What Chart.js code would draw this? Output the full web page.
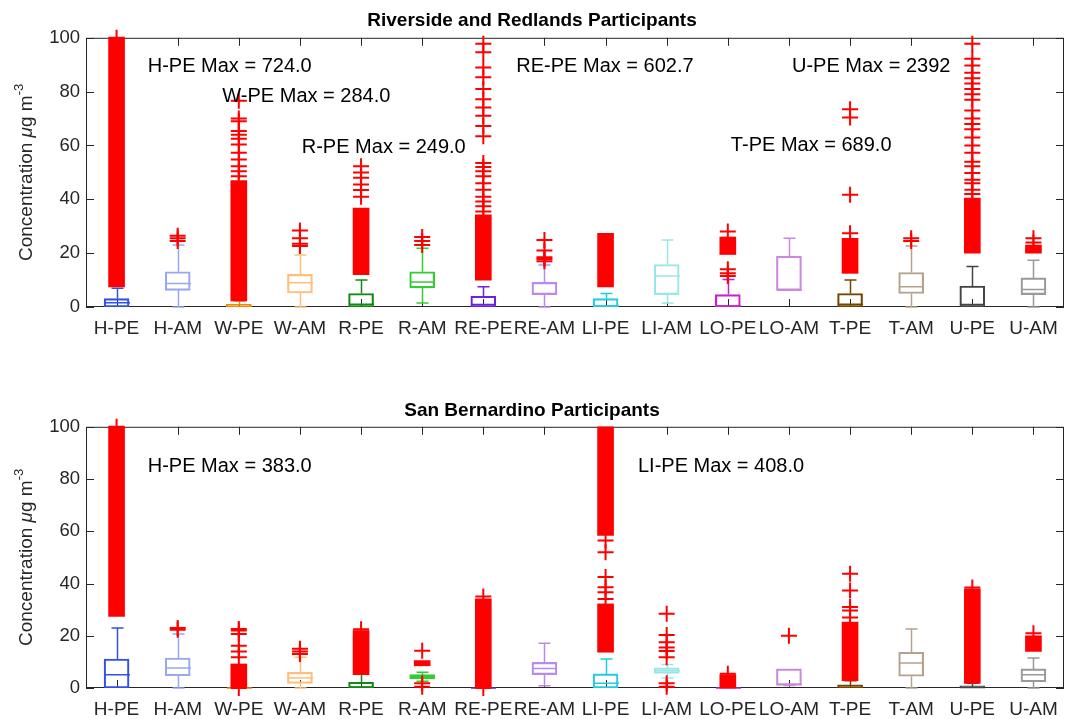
<!DOCTYPE html>
<html>
<head>
<meta charset="utf-8">
<script src="https://cdn.jsdelivr.net/npm/chart.js@4.4.1/dist/chart.umd.min.js"></script>
<style>
  html, body { margin: 0; padding: 0; background: #fff; }
  #wrap { position: relative; width: 1067px; height: 719px; }
  #c1 { position: absolute; left: 0; top: 0; }
  #c2 { position: absolute; left: 0; top: 380px; }
</style>
</head>
<body>
<div id="wrap">
  <canvas id="c1" width="1067" height="380"></canvas>
  <canvas id="c2" width="1067" height="339"></canvas>
</div>
<script>
// categories (same for both panels)
var cats = ['H-PE', 'H-AM', 'W-PE', 'W-AM', 'R-PE', 'R-AM', 'RE-PE', 'RE-AM',
            'LI-PE', 'LI-AM', 'LO-PE', 'LO-AM', 'T-PE', 'T-AM', 'U-PE', 'U-AM'];
var boxColors = ['#3050e8', '#98a8f0', '#f08a00', '#ffbf7a', '#118a11', '#33cc33', '#6a22dd', '#b88af0',
                 '#22ccdd', '#99e6e8', '#cc22cc', '#cc88dd', '#774400', '#b4a28c', '#444444', '#999999'];

// ---- Riverside and Redlands ----
var rrQ1   = [0, 6.2, 0, 5.2, 0, 7.1, 0, 4.6, 0, 4.6, 0, 6.2, 0, 5.0, 0, 4.6];
var rrMed  = [1.6, 8.7, 0.3, 9.0, 1.0, 9.3, 0.9, 8.7, 0.4, 11.5, 0.4, 6.2, 1.0, 7.5, 0.9, 6.5];
var rrQ3   = [3.1, 13.1, 1.0, 12.1, 5.0, 13.1, 4.0, 9.3, 3.1, 15.8, 4.6, 18.9, 5.0, 12.8, 7.8, 10.8];
var rrWLo  = [0, 0, 0, 0, 0, 1.5, 0, 0, 0, 1.5, 0, 6.2, 0, 0, 0, 0];
var rrWHi  = [7.0, 23.0, 2.2, 19.3, 10.0, 21.8, 7.5, 15.6, 5.0, 24.9, 10.2, 25.5, 10.0, 22.7, 15.0, 17.4];
// dense runs of outliers: [low, high] per category
var rrBands = [[[7.5, 100]], [], [[2.3, 47]], [], [[12, 36.7]], [], [[10, 34.2]], [],
               [[7.5, 27.4]], [], [[19.5, 26]], [], [[12.5, 25.5]], [], [[20, 40.5]], [[20, 23]]];
var rrOut = [
  [100],
  [24.5, 25.5, 26.5],
  [48.6, 50.4, 52.3, 54.8, 57.3, 60.4, 62.5, 64, 65.4, 69, 70, 76.6],
  [22.7, 23.5, 25.5, 28.4],
  [41, 43.5, 45.5, 48, 50, 52.3],
  [23, 24.5, 26],
  [35.5, 37.4, 39.2, 41, 43.6, 46, 48.6, 50.4, 52, 53.5, 63.4, 67.2, 71, 74.1, 77.2, 81, 85.3, 89, 94.6, 97.8],
  [17, 17.8, 18.5, 21, 24.9],
  [],
  [],
  [11.5, 12.5, 14, 28],
  [],
  [27.4, 41.7, 70.4, 73.5],
  [24.5, 25.5],
  [42, 43.6, 46, 47.3, 49.8, 52.3, 54, 57.3, 60, 63, 66, 68, 70, 73, 77, 79, 81, 83, 85, 87, 89.7, 92.2, 97.8],
  [24, 25.5]
];
var rrNotes = [
  ['H-PE Max = 724.0', 0.51, 89.5],
  ['W-PE Max = 284.0', 1.73, 78.3],
  ['R-PE Max = 249.0', 3.03, 59.3],
  ['RE-PE Max = 602.7', 6.54, 89.5],
  ['U-PE Max = 2392', 11.05, 89.5],
  ['T-PE Max = 689.0', 10.05, 60.0]
];

// ---- San Bernardino ----
var sbQ1   = [0, 4.7, 0, 1.8, 0, 3.5, 0, 5.1, 0, 5.6, 0, 1.0, 0, 4.5, 0, 2.4];
var sbMed  = [5.1, 7.7, 0, 3.8, 0.3, 4.3, 0, 7.5, 1.8, 6.6, 0, 1.4, 0.3, 9.6, 0.2, 5.1];
var sbQ3   = [11.1, 11.5, 0, 6.0, 2.2, 5.1, 0, 9.8, 5.4, 7.7, 0, 7.3, 1.2, 13.7, 0.8, 7.3];
var sbWLo  = [0, 0, 0, 0, 0, 2.6, 0, 0.9, 0, 3.8, 0, 1.0, 0, 0, 0, 0];
var sbWHi  = [23, 20.7, 0, 11.8, 5.4, 6.0, 0, 17.1, 11.1, 9.0, 0, 7.3, 2.8, 22.6, 1.8, 11.5];
var sbBands = [[[27.4, 100]], [], [[0.5, 9.2]], [], [[5.1, 22]], [[8.5, 10.5]], [[0.3, 34.1]], [],
               [[13.7, 32.2], [58.4, 100]], [], [[0, 5.1]], [], [[2.8, 25.2]], [], [[1.8, 38]], [[14, 20]]];
var sbOut = [
  [100],
  [22.3, 23],
  [0, 11.8, 14, 16.2, 20.7, 22, 22.6],
  [13, 14, 15],
  [22.5],
  [0.5, 1.8, 14.3],
  [0, 35],
  [],
  [34.1, 36.7, 38.6, 42.5, 52, 56.5],
  [0.5, 1.8, 11.8, 14.2, 15.5, 17.5, 20.3, 28.4],
  [5.5],
  [20],
  [27, 29.7, 31, 37.3, 43.7],
  [],
  [38.5],
  [21]
];
var sbNotes = [
  ['H-PE Max = 383.0', 0.51, 84.7],
  ['LI-PE Max = 408.0', 8.53, 84.7]
];

var yTicks = [0, 20, 40, 60, 80, 100];
var FONT = '"Liberation Sans", Arial, Helvetica, sans-serif';
Chart.defaults.font.family = FONT;
Chart.defaults.color = '#262626';

function boxPlotPlugin(q1, med, q3, wLo, wHi, notes) {
    return {
        id: 'boxbits',
        beforeDatasetsDraw: function (chart) {
            var ctx = chart.ctx, x = chart.scales.x, y = chart.scales.y, a = chart.chartArea;
            ctx.save();
            // axes box with inward ticks
            ctx.strokeStyle = '#262626';
            ctx.lineWidth = 1;
            ctx.strokeRect(a.left + 0.5, a.top + 0.5, a.right - a.left - 1, a.bottom - a.top - 1);
            ctx.beginPath();
            yTicks.forEach(function (v) {
                var py = Math.round(y.getPixelForValue(v)) + 0.5;
                ctx.moveTo(a.left, py); ctx.lineTo(a.left + 8, py);
                ctx.moveTo(a.right, py); ctx.lineTo(a.right - 8, py);
            });
            cats.forEach(function (c, i) {
                var px = Math.round(x.getPixelForValue(i)) + 0.5;
                ctx.moveTo(px, a.top); ctx.lineTo(px, a.top + 8);
                ctx.moveTo(px, a.bottom); ctx.lineTo(px, a.bottom - 8);
            });
            ctx.stroke();

            // whiskers, caps, medians
            ctx.lineWidth = 1.5;
            cats.forEach(function (c, i) {
                var px = Math.round(x.getPixelForValue(i)) + 0.5;
                ctx.strokeStyle = boxColors[i];
                ctx.beginPath();
                if (wHi[i] > q3[i]) {
                    ctx.moveTo(px, y.getPixelForValue(q3[i]));
                    ctx.lineTo(px, y.getPixelForValue(wHi[i]));
                    ctx.moveTo(px - 6, y.getPixelForValue(wHi[i]));
                    ctx.lineTo(px + 6, y.getPixelForValue(wHi[i]));
                }
                if (wLo[i] < q1[i] || wLo[i] > 0) {
                    ctx.moveTo(px, y.getPixelForValue(q1[i]));
                    ctx.lineTo(px, y.getPixelForValue(wLo[i]));
                    ctx.moveTo(px - 6, y.getPixelForValue(wLo[i]));
                    ctx.lineTo(px + 6, y.getPixelForValue(wLo[i]));
                }
                var my = y.getPixelForValue(med[i]);
                ctx.moveTo(px - 12.5, my);
                ctx.lineTo(px + 12.5, my);
                ctx.stroke();
            });
            ctx.restore();
        },
        afterDraw: function (chart) {
            var ctx = chart.ctx, x = chart.scales.x, y = chart.scales.y, a = chart.chartArea;
            ctx.save();
            ctx.fillStyle = '#000';
            ctx.font = '20px ' + FONT;
            ctx.textAlign = 'left';
            ctx.textBaseline = 'middle';
            notes.forEach(function (n) {
                ctx.fillText(n[0], x.getPixelForValue(n[1]), y.getPixelForValue(n[2]));
            });
            ctx.restore();

            // y axis title: Concentration (italic mu) g m^-3
            var parts = [
                ['Concentration ', '19px ' + FONT, 0],
                ['\u03bc', 'italic 19px ' + FONT, 0],
                ['g m', '19px ' + FONT, 0],
                ['-3', '13px ' + FONT, -8]
            ];
            ctx.save();
            ctx.fillStyle = '#262626';
            ctx.textBaseline = 'middle';
            ctx.textAlign = 'left';
            var total = 0;
            parts.forEach(function (p) { ctx.font = p[1]; total += ctx.measureText(p[0]).width; });
            ctx.translate(27, (a.top + a.bottom) / 2);
            ctx.rotate(-Math.PI / 2);
            var cx = -total / 2;
            parts.forEach(function (p) {
                ctx.font = p[1];
                ctx.fillText(p[0], cx, p[2]);
                cx += ctx.measureText(p[0]).width;
            });
            ctx.restore();
        }
    };
}

function makePanel(id, title, titlePad, bottomPad, q1, med, q3, wLo, wHi, bands, outs, notes) {
    var boxData = cats.map(function (c, i) { return [q1[i], q3[i]]; });
    var datasets = [{
        type: 'bar',
        data: boxData,
        borderColor: boxColors,
        backgroundColor: 'rgba(0,0,0,0)',
        borderWidth: 1.5,
        borderSkipped: false,
        barThickness: 25,
        grouped: false,
        order: 3
    }];
    var nSlots = Math.max.apply(null, bands.map(function (b) { return b.length; }));
    for (var k = 0; k < nSlots; k++) {
        datasets.push({
            type: 'bar',
            data: cats.map(function (c, i) { return bands[i][k] || null; }),
            backgroundColor: '#ff0000',
            borderWidth: 0,
            barThickness: 16,
            grouped: false,
            clip: false,
            order: 2
        });
    }
    var pts = [];
    outs.forEach(function (list, i) {
        list.forEach(function (v) { pts.push({ x: cats[i], y: v }); });
    });
    datasets.push({
        type: 'line',
        data: pts,
        showLine: false,
        pointStyle: 'cross',
        pointRadius: 8,
        pointBorderWidth: 2,
        pointBorderColor: '#ff0000',
        pointBackgroundColor: '#ff0000',
        clip: false,
        order: 1
    });

    return new Chart(document.getElementById(id), {
        type: 'bar',
        data: { labels: cats, datasets: datasets },
        options: {
            responsive: false,
            animation: false,
            layout: { autoPadding: false, padding: { left: 0, right: 3, top: 0, bottom: bottomPad } },
            plugins: {
                legend: { display: false },
                tooltip: { enabled: false },
                title: {
                    display: true,
                    text: title,
                    color: '#000',
                    font: { size: 19, weight: 'bold' },
                    padding: titlePad
                }
            },
            scales: {
                x: {
                    type: 'category',
                    offset: true,
                    grid: { display: false, drawTicks: false },
                    border: { display: false },
                    ticks: { autoSkip: false, maxRotation: 0, padding: 10, font: { size: 19 }, color: '#262626' },
                    afterFit: function (s) { s.height = 31; s.paddingLeft = 0; s.paddingRight = 0; }
                },
                y: {
                    min: 0, max: 100,
                    grid: { display: false, drawTicks: false },
                    border: { display: false },
                    ticks: { stepSize: 20, padding: 6, font: { size: 18.5 }, color: '#262626' },
                    afterFit: function (s) { s.width = 86; s.paddingTop = 0; s.paddingBottom = 0; }
                }
            }
        },
        plugins: [boxPlotPlugin(q1, med, q3, wLo, wHi, notes)]
    });
}

makePanel('c1', 'Riverside and Redlands Participants', { top: 9, bottom: 6 }, 42,
          rrQ1, rrMed, rrQ3, rrWLo, rrWHi, rrBands, rrOut, rrNotes);
makePanel('c2', 'San Bernardino Participants', { top: 19, bottom: 5 }, 0,
          sbQ1, sbMed, sbQ3, sbWLo, sbWHi, sbBands, sbOut, sbNotes);
</script>
</body>
</html>
